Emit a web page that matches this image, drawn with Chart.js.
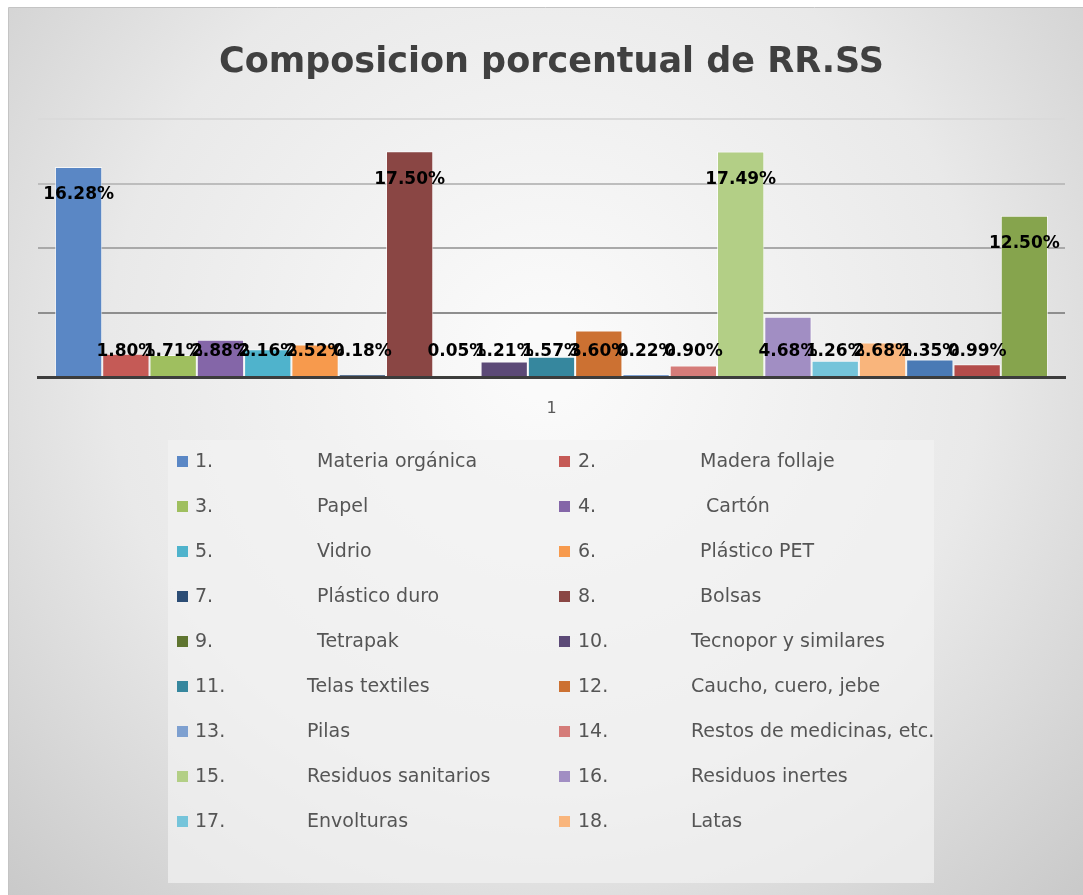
<!DOCTYPE html>
<html>
<head>
<meta charset="utf-8">
<script src="https://cdn.jsdelivr.net/npm/chart.js@4.4.1/dist/chart.umd.min.js"></script>
<style>
  html, body { margin: 0; padding: 0; background: #ffffff; }
  #wrap { position: relative; width: 1083px; height: 895px; }
</style>
</head>
<body>
<div id="wrap"><canvas id="c" width="1083" height="895"></canvas></div>
<script>
// ---- data ----
const categories = ['1'];
const seriesNumbers = ['1.','2.','3.','4.','5.','6.','7.','8.','9.','10.','11.','12.','13.','14.','15.','16.','17.','18.','19.','20.','21.'];
const seriesNames = ['Materia orgánica','Madera follaje','Papel',' Cartón','Vidrio','Plástico PET','Plástico duro','Bolsas','Tetrapak','Tecnopor y similares','Telas textiles','Caucho, cuero, jebe','Pilas','Restos de medicinas, etc.','Residuos sanitarios','Residuos inertes','Envolturas','Latas','','',''];
const seriesValues = [16.28,1.80,1.71,2.88,2.16,2.52,0.18,17.50,0.05,1.21,1.57,3.60,0.22,0.90,17.49,4.68,1.26,2.68,1.35,0.99,12.50];
const seriesColors = ['#5a87c5','#c55a56','#9fbf5f','#8466a8','#4fb3cc','#f79a4d','#2c4d75','#8a4644','#5f7530','#5c4a77','#36879e','#cc7132','#7ea0d0','#d57c79','#b3cf86','#a18ec3','#75c4da','#f9b57c','#4a7ab5','#b34c4a','#86a44d'];
const yTicks = [0,5,10,15,20];
const legendShown = 18;

const datasets = seriesValues.map((v, i) => ({
  label: seriesNumbers[i] + ' ' + seriesNames[i],
  data: [v],
  backgroundColor: seriesColors[i],
  borderColor: 'rgba(255,255,255,0.7)',
  borderWidth: 1,
  categoryPercentage: 0.967,
  barPercentage: 1.0
}));

const gridColors = {5:'#8e8e8e', 10:'#a9a9a9', 15:'#bdbdbd', 20:'#dadada'};

const bgPlugin = {
  id: 'bg',
  beforeDraw(chart) {
    const ctx = chart.ctx;
    ctx.save();
    ctx.fillStyle = '#ffffff';
    ctx.fillRect(0, 0, chart.width, chart.height);
    const g = ctx.createRadialGradient(545, 360, 40, 545, 360, 760);
    g.addColorStop(0, '#fafafa');
    g.addColorStop(0.55, '#e9e9e9');
    g.addColorStop(1, '#c9c9c9');
    ctx.fillStyle = g;
    ctx.fillRect(8, 8, chart.width - 8, chart.height - 8);
    ctx.strokeStyle = '#c4c4c4';
    ctx.lineWidth = 1;
    ctx.beginPath();
    ctx.moveTo(8.5, chart.height);
    ctx.lineTo(8.5, 7.5);
    ctx.lineTo(chart.width, 7.5);
    ctx.stroke();
    // legend box background
    ctx.fillStyle = 'rgba(242,242,242,0.7)';
    ctx.fillRect(168, 440, 766, 443);
    ctx.restore();
  }
};

const labelPlugin = {
  id: 'barLabels',
  afterDatasetsDraw(chart) {
    const ctx = chart.ctx;
    const base = chart.scales.y.getPixelForValue(0);
    ctx.save();
    ctx.font = 'bold 17px "DejaVu Sans"';
    ctx.fillStyle = '#000000';
    ctx.textAlign = 'center';
    ctx.textBaseline = 'middle';
    chart.data.datasets.forEach((ds, i) => {
      const meta = chart.getDatasetMeta(i);
      meta.data.forEach((el, j) => {
        const y = (base - el.y) > 80 ? el.y + 28 : base - 25;
        ctx.fillText(ds.data[j].toFixed(2) + '%', el.x, y);
      });
    });
    ctx.restore();
  }
};

const legendPlugin = {
  id: 'customLegend',
  afterDraw(chart) {
    const ctx = chart.ctx;
    ctx.save();
    ctx.font = '19px "DejaVu Sans"';
    ctx.textBaseline = 'middle';
    ctx.textAlign = 'left';
    for (let i = 0; i < legendShown; i++) {
      const col = i % 2;
      const row = Math.floor(i / 2);
      const cy = 462 + row * 45;
      const mx = col === 0 ? 177 : 559;
      const nx = col === 0 ? 195 : 578;
      const twoDigit = seriesNumbers[i].length > 2;
      const lx = col === 0 ? (twoDigit ? 307 : 317) : (twoDigit ? 691 : 700);
      ctx.fillStyle = seriesColors[i];
      ctx.fillRect(mx, cy - 6, 11, 11);
      ctx.fillStyle = '#555555';
      ctx.fillText(seriesNumbers[i], nx, cy);
      ctx.fillText(seriesNames[i], lx, cy);
    }
    ctx.restore();
  }
};

new Chart(document.getElementById('c'), {
  type: 'bar',
  data: { labels: categories, datasets },
  plugins: [bgPlugin, labelPlugin, legendPlugin],
  options: {
    responsive: false,
    animation: false,
    layout: { padding: { left: 38, right: 18, top: 0, bottom: 0 } },
    plugins: {
      legend: { display: false },
      tooltip: { enabled: false },
      title: {
        display: true,
        text: 'Composicion porcentual de RR.SS',
        color: '#404040',
        font: { family: '"DejaVu Sans"', size: 35, weight: 'bold', lineHeight: 1.2 },
        padding: { top: 42, bottom: 35 }
      }
    },
    scales: {
      x: {
        grid: { display: false, drawTicks: false },
        border: { display: true, color: '#3c3c3c', width: 3 },
        ticks: { color: '#595959', font: { family: '"DejaVu Sans"', size: 16 }, padding: 22 },
        afterFit(s) { s.height = 518; }
      },
      y: {
        min: 0, max: 20,
        afterBuildTicks(s) { s.ticks = yTicks.map(v => ({ value: v })); },
        ticks: { display: false },
        grid: {
          drawTicks: false,
          lineWidth: 2,
          color: (c) => gridColors[c.tick ? c.tick.value : 0] || 'rgba(0,0,0,0)'
        },
        border: { display: false },
        afterFit(s) { s.width = 0; }
      }
    }
  }
});
</script>
</body>
</html>
